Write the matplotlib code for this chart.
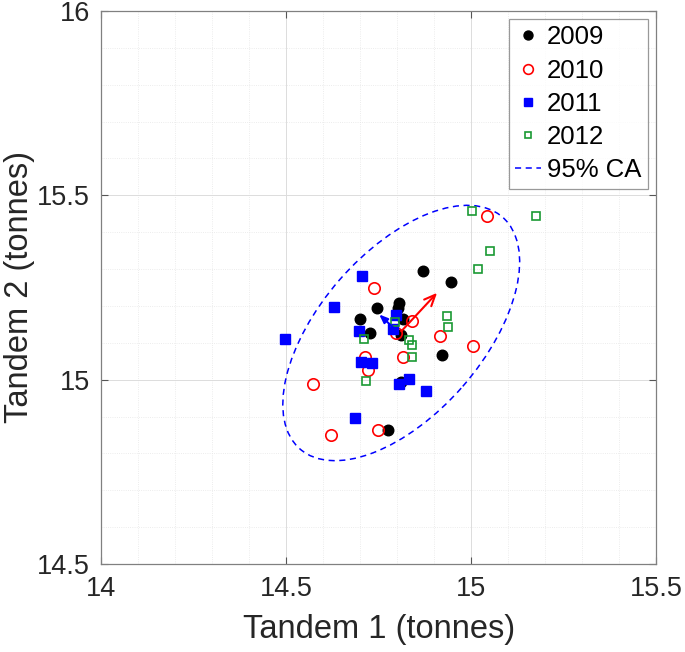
import numpy as np
import matplotlib
matplotlib.use("Agg")
import matplotlib.pyplot as plt
from matplotlib.patches import Ellipse
from matplotlib.ticker import MultipleLocator, FormatStrFormatter

plt.rcParams['font.family'] = ['Liberation Sans', 'DejaVu Sans']

# tandem axle loads (tonnes)
x2009 = [14.870, 14.946, 14.745, 14.805, 14.802, 14.700, 14.815, 14.727, 14.810, 14.922, 14.810, 14.774]
y2009 = [15.295, 15.266, 15.194, 15.209, 15.194, 15.164, 15.164, 15.126, 15.121, 15.068, 14.994, 14.863]

x2010 = [15.042, 14.737, 14.839, 14.797, 14.915, 15.004, 14.815, 14.713, 14.721, 14.572, 14.621, 14.747]
y2010 = [15.444, 15.248, 15.160, 15.127, 15.118, 15.092, 15.061, 15.062, 15.026, 14.989, 14.849, 14.863]

x2011 = [14.704, 14.630, 14.797, 14.498, 14.696, 14.790, 14.703, 14.731, 14.833, 14.805, 14.878, 14.687]
y2011 = [15.281, 15.197, 15.175, 15.109, 15.132, 15.137, 15.049, 15.046, 15.002, 14.988, 14.970, 14.897]

x2012 = [15.003, 15.175, 15.052, 15.019, 14.934, 14.938, 14.794, 14.711, 14.833, 14.841, 14.841, 14.715]
y2012 = [15.457, 15.444, 15.348, 15.299, 15.173, 15.144, 15.156, 15.111, 15.108, 15.094, 15.062, 14.996]

# 95% confidence ellipse: centre, semi axes, angle (deg)
ell_center = (14.811, 15.1265)
ell_a = 0.417
ell_b = 0.2205
ell_angle = 49.0

# principal direction arrows
arrow_origin = (14.806, 15.1257)
red_tip = (14.913, 15.241)
blue_tip = (14.746, 15.182)

fig = plt.figure(figsize=(6.85, 6.52), dpi=100)
ax = fig.add_axes([0.1479, 0.135, 0.8098, 0.8481])

ax.plot(x2009, y2009, 'o', color='k', ms=7.6, label='2009', zorder=3)
ax.plot(x2010, y2010, 'o', mfc='none', mec='r', mew=1.2, ms=8.2, label='2010', zorder=3)
ax.plot(x2011, y2011, 's', color='b', ms=6.8, label='2011', zorder=3)
ax.plot(x2012, y2012, 's', mfc='none', mec=(0.1, 0.6, 0.2), mew=1.2, ms=5.9, label='2012', zorder=3)

ell = Ellipse(ell_center, 2 * ell_a, 2 * ell_b, angle=ell_angle, fill=False,
              ec='b', ls=(0, (4, 3)), lw=1.1, zorder=2)
ax.add_patch(ell)
ax.plot([], [], ls=(0, (4, 3)), color='b', lw=1.1, label='95% CA')

ax.annotate('', xy=red_tip, xytext=arrow_origin,
            arrowprops=dict(arrowstyle='->,head_length=0.8,head_width=0.35', color='r', lw=1.5), zorder=4)
ax.annotate('', xy=blue_tip, xytext=arrow_origin,
            arrowprops=dict(arrowstyle='-|>,head_length=0.5,head_width=0.2', color='b', lw=1.5), zorder=4)

ax.set_xlim(14, 15.5)
ax.set_ylim(14.5, 16)
ax.xaxis.set_major_locator(MultipleLocator(0.5))
ax.yaxis.set_major_locator(MultipleLocator(0.5))
ax.xaxis.set_minor_locator(MultipleLocator(0.1))
ax.yaxis.set_minor_locator(MultipleLocator(0.1))
ax.xaxis.set_major_formatter(FormatStrFormatter('%g'))
ax.yaxis.set_major_formatter(FormatStrFormatter('%g'))
ax.grid(which='major', color='#dcdcdc', lw=0.7)
ax.grid(which='minor', color='#e6e6e6', lw=0.6, ls=':')
ax.set_axisbelow(True)
ax.tick_params(which='major', direction='in', length=5, top=True, right=True,
               color='#555555', labelsize=19.5, labelcolor='#262626')
ax.tick_params(axis='x', pad=9)
ax.tick_params(axis='y', pad=8)
ax.tick_params(which='minor', length=0)
for s in ax.spines.values():
    s.set_color('#808080')
    s.set_linewidth(0.9)

ax.set_xlabel('Tandem 1 (tonnes)', fontsize=23.5, color='#262626')
ax.set_ylabel('Tandem 2 (tonnes)', fontsize=23.5, color='#262626')
ax.xaxis.set_label_coords(0.5, -0.0904)
ax.yaxis.set_label_coords(-0.1195, 0.5)

leg = ax.legend(loc='upper right', bbox_to_anchor=(0.9856, 0.9855), borderaxespad=0,
                fontsize=18.5, frameon=True, fancybox=False, edgecolor='#808080',
                handlelength=1.0, handletextpad=0.25, labelspacing=0.36,
                borderpad=0.25, markerscale=0.85)
leg.get_frame().set_linewidth(0.9)

fig.savefig('out.png', dpi=100)
